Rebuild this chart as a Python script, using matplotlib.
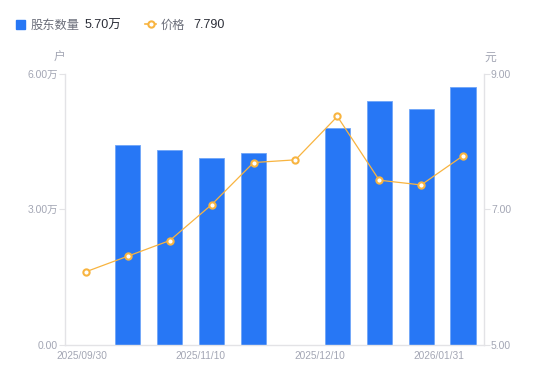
import numpy as np
import matplotlib
matplotlib.use("Agg")
import matplotlib.pyplot as plt

plt.rcParams['font.family'] = ['Liberation Sans', 'Noto Sans CJK SC', 'DejaVu Sans']

# Data (holders in 万户, price in 元); None = no value for that period
holders = [None, 4.43, 4.32, 4.13, 4.24, None, 4.80, 5.39, 5.22, 5.70]
price = [6.08, 6.31, 6.54, 7.07, 7.69, 7.73, 8.37, 7.43, 7.36, 7.79]
date_labels = ["2025/09/30", "2025/11/10", "2025/12/10", "2026/01/31"]
left_ticks = [0, 3, 6]
left_tick_labels = ["0.00", "3.00万", "6.00万"]
right_ticks = [5, 7, 9]
right_tick_labels = ["5.00", "7.00", "9.00"]

BLUE = "#2777F5"
ORANGE = "#F8B440"
GRID = "#E3E3E6"
LABEL = "#A3A6B4"
CJK = ['Noto Sans CJK SC', 'DejaVu Sans']

W, H = 550, 381
fig = plt.figure(figsize=(W / 100, H / 100), dpi=100)
ax = fig.add_axes([65 / W, 36 / H, 419 / W, 271.3 / H])
ax2 = ax.twinx()

x = np.arange(len(price))
bx = [i for i, v in enumerate(holders) if v is not None]
bv = [v for v in holders if v is not None]
ax.bar(bx, bv, width=0.6, color=BLUE, edgecolor="#6FA5F8", linewidth=0.6, zorder=2)

ax2.plot(x, price, color=ORANGE, lw=0.9, marker="o", ms=4.5, mfc="white",
         mec=ORANGE, mew=1.5, zorder=3)

ax.set_xlim(-0.5, len(price) - 0.5)
ax.set_ylim(0, 6)
ax2.set_ylim(5, 9)

ax.set_yticks(left_ticks)
ax.set_yticklabels(left_tick_labels)
ax2.set_yticks(right_ticks)
ax2.set_yticklabels(right_tick_labels)
ax.set_xticks(np.linspace(-0.1, 8.43, len(date_labels)))
ax.set_xticklabels(date_labels)

for a in (ax, ax2):
    for s in a.spines.values():
        s.set_visible(False)
ax2.set_zorder(2)
ax.set_zorder(1)
ax.patch.set_visible(False)
ax.spines["left"].set_visible(True)
ax.spines["bottom"].set_visible(True)
ax2.spines["right"].set_visible(True)
for s in (ax.spines["left"], ax.spines["bottom"], ax2.spines["right"]):
    s.set_color(GRID)
    s.set_linewidth(1)

ax.tick_params(axis="y", colors=GRID, labelcolor=LABEL, labelsize=7.5, length=4, pad=1)
ax2.tick_params(axis="y", colors=GRID, labelcolor=LABEL, labelsize=7.5, length=4, pad=1)
ax.tick_params(axis="x", length=0, labelcolor=LABEL, labelsize=7.3, pad=4)

fig.text(59 / W, 1 - 57 / H, "户", color=LABEL, fontsize=8.5, ha="center", va="center", family=CJK)
fig.text(490 / W, 1 - 57 / H, "元", color=LABEL, fontsize=8.5, ha="center", va="center", family=CJK)

# legend row
ly = 1 - 24 / H
base = ly - 4.5 / H
fig.patches.append(plt.Rectangle((16 / W, ly - 4.5 / H), 9 / W, 9 / H,
                                 transform=fig.transFigure, color=BLUE))
fig.text(31 / W, base, "股东数量", color="#6B6E7A", fontsize=8.8, va="baseline", family=CJK)
fig.text(85 / W, base, "5.70万", color="#2B2E38", fontsize=9, va="baseline")
fig.lines.append(plt.Line2D([145 / W, 156 / W], [ly, ly], transform=fig.transFigure,
                            color=ORANGE, lw=1.2))
fig.lines.append(plt.Line2D([150.5 / W], [ly], transform=fig.transFigure, marker="o",
                            ms=4.5, mfc="white", mec=ORANGE, mew=1.5))
fig.text(161 / W, base, "价格", color="#6B6E7A", fontsize=8.8, va="baseline", family=CJK)
fig.text(193 / W, base, "7.790", color="#2B2E38", fontsize=9, va="baseline")

fig.savefig("out.png", dpi=100)
